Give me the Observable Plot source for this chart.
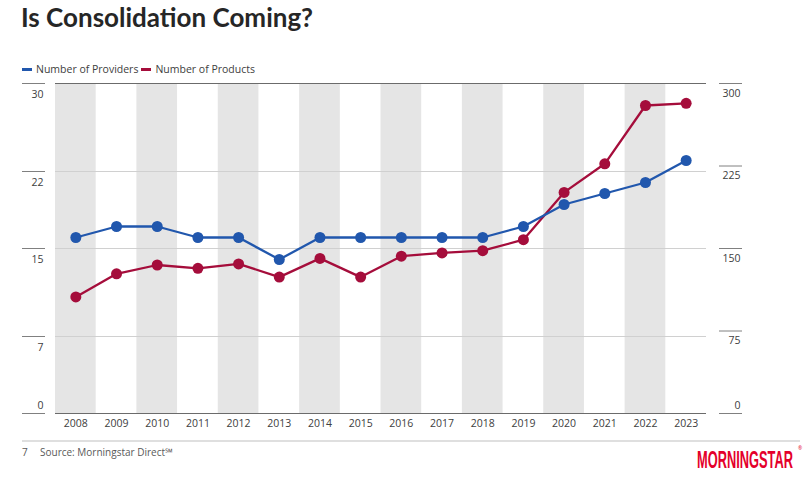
<!DOCTYPE html>
<html>
<head>
<meta charset="utf-8">
<script src="https://cdn.jsdelivr.net/npm/d3@7"></script>
<script src="https://cdn.jsdelivr.net/npm/@observablehq/plot@0.6"></script>
<style>
  html, body { margin: 0; padding: 0; background: #fff; }
  #page { position: relative; width: 810px; height: 478px; overflow: hidden; font-family: "Open Sans", sans-serif; }
  #title { position: absolute; left: 21px; top: 4px; font-family: Lato, "Open Sans", sans-serif; font-weight: 700; font-size: 26px; line-height: 26px; color: #262626; letter-spacing: 0px; white-space: nowrap; }
  #legend { position: absolute; left: 22px; top: 62px; font-size: 10.5px; color: #404040; white-space: nowrap; }
  #legend span.sw { display: inline-block; width: 10px; height: 3px; vertical-align: middle; margin-right: 4px; position: relative; top: -1px; }
  #legend span.item { margin-right: 3px; }
  #chart { position: absolute; left: 0; top: 75px; }
  #footer { position: absolute; left: 0; top: 440px; width: 810px; height: 38px; }
</style>
</head>
<body>
<div id="page">
  <div id="title">Is Consolidation Coming?</div>
  <div id="legend"></div>
  <div id="chart"></div>
  <svg id="footer" width="810" height="38">
    <line x1="22" x2="800" y1="1" y2="1" stroke="#bfbfbf" stroke-width="1"></line>
    <text x="22" y="16" font-family="Open Sans" font-size="10" fill="#595959">7</text>
    <text x="40" y="16" font-family="Open Sans" font-size="10" fill="#595959">Source: Morningstar Direct℠</text>
    <text id="logo" x="0" y="0" font-family="'Liberation Sans Narrow', 'Liberation Sans', sans-serif" font-weight="700" font-size="23.5" fill="#e4002b">MORNINGSTAR</text>
    <text x="798" y="10" font-family="Open Sans" font-size="5" fill="#e4002b">®</text>
  </svg>
</div>
<script>
const years = ["2008","2009","2010","2011","2012","2013","2014","2015","2016","2017","2018","2019","2020","2021","2022","2023"];
const providers = [16, 17, 17, 16, 16, 14, 16, 16, 16, 16, 16, 17, 19, 20, 21, 23];
const products = [106, 127, 135, 132, 136, 124, 141, 124, 143, 146, 148, 158, 201, 227, 280, 282];
const seriesNames = ["Number of Providers", "Number of Products"];
const seriesColors = ["#2157ad", "#a50d3b"];
const leftTicks = [0, 7, 15, 22, 30];
const rightTicks = [0, 75, 150, 225, 300];

// Logo: fit to 96px wide
const logo = document.getElementById("logo");
const lw = logo.getComputedTextLength() || 96;
logo.setAttribute("transform", `translate(697,27.5) scale(${96 / lw},1)`);

// Legend
const legend = document.getElementById("legend");
seriesNames.forEach((name, i) => {
  const item = document.createElement("span");
  item.className = "item";
  item.innerHTML = `<span class="sw" style="background:${seriesColors[i]}"></span>${name}`;
  legend.appendChild(item);
});

const provData = years.map((year, i) => ({year, value: providers[i]}));
// products share the chart with a secondary axis (300 on the right = 30 on the left)
const prodData = years.map((year, i) => ({year, value: products[i] / 10}));
const bands = years.filter((d, i) => i % 2 === 0).map(year => ({year}));

const chart = Plot.plot({
  width: 810,
  height: 365,
  marginTop: 8,
  marginBottom: 27,
  marginLeft: 55,
  marginRight: 104,
  x: {type: "band", domain: years, padding: 0, round: false},
  y: {domain: [0, 30]},
  style: {fontFamily: "Open Sans", fontSize: "10.5px", color: "#404040", background: "transparent"},
  marks: [
    Plot.barY(bands, {x: "year", y1: d => 0, y2: d => 30, fill: "#e5e5e5"}),
    Plot.ruleY([7, 15, 22], {stroke: "#d0d0d0", strokeWidth: 1}),
    Plot.ruleY([0, 30], {stroke: "#6b6b6b", strokeWidth: 1}),
    // left axis
    Plot.axisY({ticks: leftTicks, tickSize: 23, dx: -10, fill: "none", stroke: "#808080", label: null}),
    Plot.axisY({ticks: leftTicks.filter(d => d > 0), tickSize: 0, tickPadding: 0, dx: -12, dy: 11, stroke: "none", label: null}),
    Plot.axisY({ticks: [0], tickSize: 0, tickPadding: 0, dx: -12, dy: -8, stroke: "none", label: null}),
    // right axis (products)
    Plot.axisY({anchor: "right", ticks: rightTicks.map(d => d / 10), tickSize: 23, dx: 12, fill: "none", stroke: "#808080", label: null}),
    Plot.axisY({anchor: "right", ticks: rightTicks.filter(d => d > 0).map(d => d / 10), tickFormat: d => String(Math.round(d * 10)), tickSize: 0, tickPadding: 0, dx: 34, dy: 10, textAnchor: "end", stroke: "none", label: null}),
    Plot.axisY({anchor: "right", ticks: [0], tickFormat: d => "0", tickSize: 0, tickPadding: 0, dx: 34, dy: -8, textAnchor: "end", stroke: "none", label: null}),
    // x axis
    Plot.axisX({tickSize: 0, tickPadding: 6, label: null, fill: "#404040"}),
    // series
    Plot.line(prodData, {x: "year", y: "value", stroke: seriesColors[1], strokeWidth: 2.3}),
    Plot.line(provData, {x: "year", y: "value", stroke: seriesColors[0], strokeWidth: 2.3}),
    Plot.dot(prodData, {x: "year", y: "value", r: 5.5, fill: seriesColors[1], stroke: "none"}),
    Plot.dot(provData, {x: "year", y: "value", r: 5.5, fill: seriesColors[0], stroke: "none"})
  ]
});
document.getElementById("chart").appendChild(chart);
</script>
</body>
</html>
